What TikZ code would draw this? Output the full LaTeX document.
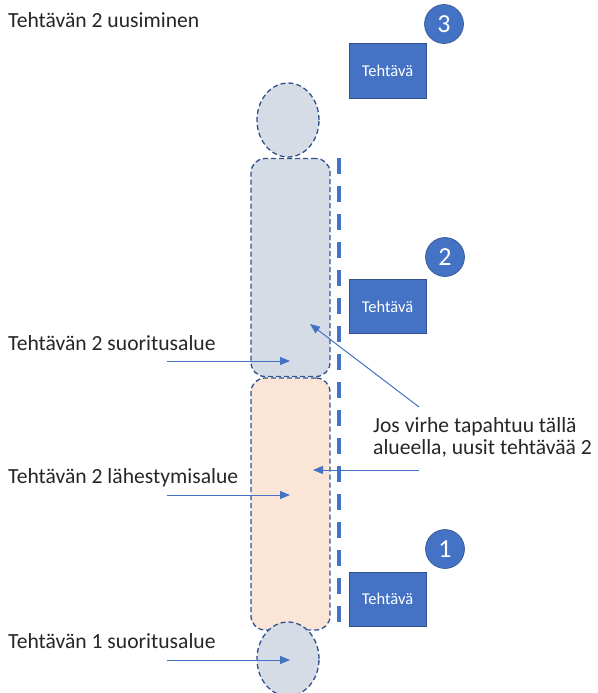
\documentclass[tikz,border=0pt]{standalone}
\usepackage{fontspec}
\setmainfont{Carlito}
\usetikzlibrary{shapes.geometric,arrows.meta}
\definecolor{accent}{HTML}{4472C4}
\definecolor{edge}{HTML}{2F528F}
\definecolor{grayfill}{HTML}{D6DCE5}
\definecolor{peach}{HTML}{FBE5D6}
\tikzset{
  zone/.style={draw=edge, line width=1.3pt, dash pattern=on 5pt off 3pt},
  head/.style={zone, ellipse, fill=grayfill, minimum width=62pt, minimum height=74pt, inner sep=0pt},
  bar/.style={zone, rounded corners=14pt, minimum width=79pt, inner sep=0pt},
  taskbox/.style={draw=edge, line width=1pt, fill=accent, text=white, minimum width=77pt, minimum height=54pt, inner sep=0pt, font=\fontsize{16.5}{19}\selectfont},
  numdot/.style={circle, draw=edge, line width=0.6pt, fill=accent, text=white, minimum size=39pt, inner sep=0pt, font=\fontsize{26}{30}\selectfont},
  label/.style={anchor=base west, inner sep=0pt, font=\fontsize{21.6}{24}\selectfont, text=black!85},
  pointer/.style={draw=accent, line width=1pt, -{Triangle[length=10pt,width=8pt]}},
}
\begin{document}
\begin{tikzpicture}[x=1pt,y=-1pt]
\useasboundingbox (0,0) rectangle (597,693);
% shapes
\node[bar, fill=grayfill, minimum height=218pt] (upper) at (290.5,267.5) {};
\node[bar, fill=peach, minimum height=252pt] (lower) at (290.5,504) {};
\node[head] (top) at (288,120) {};
\node[head] (bottom) at (288,659) {};
% dashed boundary
\draw[accent, line width=4.5pt, dash pattern=on 16pt off 12pt] (339,158) -- (339,627);
% task boxes
\node[taskbox] (t3) at (387.5,71) {Tehtävä};
\node[taskbox] (t2) at (387.5,306.5) {Tehtävä};
\node[taskbox] (t1) at (387.5,599) {Tehtävä};
% numbers
\node[numdot] (n3) at (444,24) {3};
\node[numdot] (n2) at (445,257) {2};
\node[numdot] (n1) at (445,549) {1};
% labels
\node[label] (l0) at (8,28) {Tehtävän 2 uusiminen};
\node[label] (l1) at (8,350) {Tehtävän 2 suoritusalue};
\node[label] (l2) at (8,483) {Tehtävän 2 lähestymisalue};
\node[label] (l3) at (8,648) {Tehtävän 1 suoritusalue};
\node[label] (j1) at (373,432) {Jos virhe tapahtuu tällä};
\node[label] (j2) at (373,454) {alueella, uusit tehtävää 2};
% arrow end points
\coordinate (s1) at (167,361); \coordinate (e1) at (290,361);
\coordinate (s2) at (167,495); \coordinate (e2) at (290,495);
\coordinate (s3) at (167,660); \coordinate (e3) at (290,660);
\coordinate (s4) at (419,407); \coordinate (e4) at (310,324);
\coordinate (s5) at (419,470); \coordinate (e5) at (313,470);
\draw[pointer] (s1) -- (e1);
\draw[pointer] (s2) -- (e2);
\draw[pointer] (s3) -- (e3);
\draw[pointer] (s4) -- (e4);
\draw[pointer] (s5) -- (e5);
\end{tikzpicture}
\end{document}
